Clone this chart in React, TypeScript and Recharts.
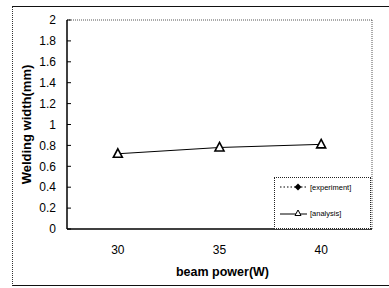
import React from 'react';
import { LineChart, Line, XAxis, YAxis, ReferenceLine } from 'recharts';

const powers = [30, 35, 40];
const experiment: (number | null)[] = [null, null, null];
const analysis = [0.72, 0.78, 0.81];
const yTicks = [0, 0.2, 0.4, 0.6, 0.8, 1, 1.2, 1.4, 1.6, 1.8, 2];
const bandEdges = [32.5, 37.5];

const data = powers.map((p, i) => ({ power: p, experiment: experiment[i], analysis: analysis[i] }));

const Triangle = (props: any) => {
  const { cx, cy } = props;
  if (cx == null || cy == null) return null;
  return (
    <path
      d={`M${cx},${cy - 5} L${cx + 4.5},${cy + 3.5} L${cx - 4.5},${cy + 3.5} Z`}
      fill="#fff"
      stroke="#000"
      strokeWidth={1.6}
    />
  );
};

const Diamond = (props: any) => {
  const { cx, cy } = props;
  if (cx == null || cy == null) return null;
  return <path d={`M${cx},${cy - 3.5} L${cx + 3.5},${cy} L${cx},${cy + 3.5} L${cx - 3.5},${cy} Z`} fill="#000" />;
};

const LegendBox = () => (
  <div
    style={{
      position: 'absolute',
      left: 274,
      top: 177,
      width: 97,
      height: 52,
      border: '1px dotted #222',
      background: '#fff',
      boxSizing: 'border-box',
      fontFamily: 'Liberation Sans, Arial, sans-serif',
      fontSize: 7.5,
      color: '#000',
    }}
  >
    <div style={{ position: 'absolute', left: 5, top: 3, display: 'flex', alignItems: 'center' }}>
      <svg width={27} height={12}>
        <line x1={0} y1={6} x2={27} y2={6} stroke="#000" strokeDasharray="1.5 2" strokeWidth={1} />
        <path d="M18,2.5 L21.5,6 L18,9.5 L14.5,6 Z" fill="#000" />
      </svg>
      <span style={{ marginLeft: 3, color: '#000' }}>[experiment]</span>
    </div>
    <div style={{ position: 'absolute', left: 5, top: 29, display: 'flex', alignItems: 'center' }}>
      <svg width={27} height={12}>
        <line x1={0} y1={7} x2={27} y2={7} stroke="#000" strokeWidth={1} />
        <path d="M18,3 L21,8.5 L15,8.5 Z" fill="#fff" stroke="#000" strokeWidth={1} />
      </svg>
      <span style={{ marginLeft: 3, color: '#000' }}>[analysis]</span>
    </div>
  </div>
);

export default function App() {
  const font = 'Liberation Sans, Arial, sans-serif';
  return (
    <div style={{ position: 'absolute', left: 0, top: 0, width: 389, height: 288, overflow: 'hidden', background: '#fff' }}>
      <div
        style={{
          position: 'absolute',
          left: 12,
          top: 6,
          width: 420,
          height: 280,
          borderTop: '1.5px solid #111',
          borderBottom: '1.5px solid #111',
          borderLeft: '1px dotted #333',
          boxSizing: 'border-box',
        }}
      />
      <div style={{ position: 'absolute', left: 0, top: 0 }}>
        <LineChart width={389} height={288} data={data} margin={{ top: 20, right: 17, bottom: 0, left: 0 }}>
          <XAxis
            xAxisId="edges"
            dataKey="power"
            type="number"
            domain={[27.5, 42.5]}
            ticks={bandEdges}
            tickSize={-4}
            tickFormatter={() => ''}
            axisLine={false}
            tickLine={{ stroke: '#000' }}
            height={0}
          />
          <XAxis
            dataKey="power"
            type="number"
            domain={[27.5, 42.5]}
            ticks={powers}
            tickLine={false}
            tickSize={0}
            tickMargin={16}
            axisLine={{ stroke: '#000', strokeWidth: 1.5 }}
            tick={{ fill: '#000', fontSize: 12, fontFamily: font }}
            height={59}
            label={{ value: 'beam power(W)', position: 'insideBottom', offset: 12, dx: 3, fill: '#000', fontSize: 12.5, fontWeight: 'bold', fontFamily: font }}
          />
          <YAxis
            type="number"
            domain={[0, 2]}
            ticks={yTicks}
            interval={0}
            width={67}
            tickSize={-4}
            tickMargin={15}
            tickLine={{ stroke: '#000' }}
            axisLine={{ stroke: '#000', strokeWidth: 1.5 }}
            tick={{ fill: '#000', fontSize: 12, fontFamily: font }}
            label={{ value: 'Welding width(mm)', angle: -90, position: 'center', dx: -7, fill: '#000', fontSize: 13, fontWeight: 'bold', fontFamily: font }}
          />
          <ReferenceLine y={2} stroke="#555" strokeDasharray="1 1" />
          <ReferenceLine x={42.5} stroke="#555" strokeDasharray="1 1" />
          <Line
            dataKey="experiment"
            stroke="#000"
            strokeDasharray="1.5 2"
            dot={<Diamond />}
            isAnimationActive={false}
            connectNulls={false}
          />
          <Line dataKey="analysis" stroke="#000" strokeWidth={1} dot={<Triangle />} isAnimationActive={false} />
        </LineChart>
      </div>
      <LegendBox />
    </div>
  );
}
